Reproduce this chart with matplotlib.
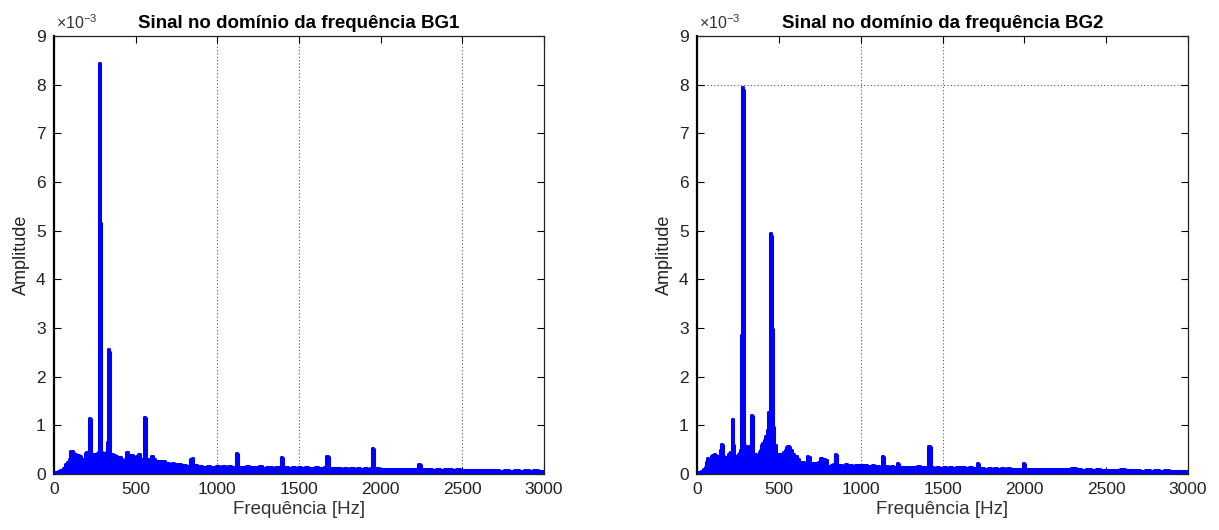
import matplotlib
matplotlib.use("Agg")
import matplotlib.pyplot as plt

plt.rcParams["font.family"] = ["Liberation Sans", "DejaVu Sans"]
plt.rcParams["mathtext.fontset"] = "custom"
plt.rcParams["mathtext.rm"] = "Liberation Sans"

# amplitude spectra, amplitudes in units of 1e-3
freq_bg1 = [0, 15, 30, 45, 60, 72, 85, 95, 102, 110,
            118, 128, 138, 148, 158, 168, 178, 186, 193, 203,
            211, 217, 221, 226, 234, 244, 256, 266, 273, 279,
            283, 287, 295, 304, 312, 320, 326, 330, 334, 338,
            342, 346, 355, 365, 378, 390, 402, 414, 424, 432,
            440, 447, 455, 462, 470, 478, 488, 498, 510, 522,
            532, 542, 550, 555, 559, 563, 568, 580, 592, 600,
            612, 624, 638, 650, 662, 675, 688, 700, 714, 728,
            742, 756, 770, 785, 800, 815, 830, 840, 846, 852,
            866, 880, 896, 912, 930, 948, 966, 984, 1002, 1020,
            1040, 1058, 1076, 1094, 1108, 1117, 1123, 1129, 1145, 1165,
            1185, 1205, 1225, 1245, 1265, 1285, 1305, 1325, 1345, 1365,
            1385, 1395, 1401, 1407, 1425, 1445, 1465, 1485, 1505, 1525,
            1545, 1565, 1585, 1605, 1625, 1645, 1660, 1673, 1681, 1688,
            1705, 1725, 1745, 1765, 1785, 1805, 1825, 1845, 1865, 1885,
            1905, 1925, 1940, 1950, 1956, 1962, 1980, 2000, 2020, 2040,
            2060, 2080, 2100, 2120, 2140, 2160, 2180, 2200, 2220, 2235,
            2243, 2250, 2270, 2300, 2325, 2350, 2375, 2400, 2425, 2450,
            2475, 2500, 2530, 2560, 2590, 2620, 2650, 2680, 2710, 2740,
            2770, 2800, 2830, 2860, 2890, 2920, 2950, 2980, 3000]
amp_bg1 = [0.02, 0.04, 0.06, 0.09, 0.12, 0.20, 0.25, 0.30, 0.47, 0.48,
           0.44, 0.42, 0.36, 0.38, 0.37, 0.30, 0.28, 0.30, 0.44, 0.46,
           0.45, 1.15, 1.13, 0.35, 0.38, 0.42, 0.40, 0.44, 0.45, 8.45,
           5.15, 0.45, 0.42, 0.44, 0.42, 0.46, 0.66, 0.50, 2.57, 2.50,
           1.62, 0.40, 0.42, 0.38, 0.36, 0.33, 0.35, 0.30, 0.28, 0.25,
           0.30, 0.46, 0.40, 0.30, 0.32, 0.39, 0.35, 0.30, 0.36, 0.41,
           0.30, 0.28, 0.30, 1.17, 1.16, 0.55, 0.30, 0.22, 0.30, 0.36,
           0.30, 0.27, 0.24, 0.27, 0.22, 0.26, 0.20, 0.22, 0.21, 0.23,
           0.18, 0.21, 0.20, 0.17, 0.19, 0.17, 0.16, 0.30, 0.32, 0.15,
           0.19, 0.16, 0.17, 0.15, 0.14, 0.16, 0.14, 0.15, 0.16, 0.15,
           0.17, 0.14, 0.16, 0.15, 0.14, 0.43, 0.42, 0.13, 0.15, 0.14,
           0.16, 0.14, 0.15, 0.14, 0.16, 0.13, 0.15, 0.14, 0.13, 0.15,
           0.14, 0.34, 0.33, 0.13, 0.14, 0.12, 0.14, 0.12, 0.14, 0.13,
           0.14, 0.12, 0.13, 0.14, 0.12, 0.13, 0.14, 0.37, 0.35, 0.12,
           0.13, 0.12, 0.13, 0.11, 0.12, 0.11, 0.13, 0.11, 0.12, 0.11,
           0.12, 0.11, 0.12, 0.54, 0.52, 0.10, 0.12, 0.10, 0.11, 0.10,
           0.11, 0.10, 0.11, 0.10, 0.11, 0.10, 0.11, 0.10, 0.11, 0.20,
           0.19, 0.10, 0.11, 0.10, 0.09, 0.10, 0.09, 0.10, 0.11, 0.09,
           0.10, 0.09, 0.08, 0.09, 0.08, 0.09, 0.08, 0.09, 0.08, 0.07,
           0.08, 0.07, 0.08, 0.07, 0.08, 0.07, 0.08, 0.07, 0.07]

freq_bg2 = [0, 15, 30, 42, 50, 58, 66, 74, 82, 90,
            98, 106, 114, 122, 130, 138, 145, 150, 155, 160,
            168, 176, 184, 192, 200, 208, 214, 218, 223, 228,
            236, 244, 252, 260, 268, 273, 279, 283, 287, 292,
            298, 306, 314, 322, 328, 334, 338, 342, 348, 356,
            364, 372, 380, 388, 396, 404, 412, 420, 430, 440,
            452, 458, 464, 470, 476, 486, 494, 502, 510, 520,
            530, 540, 548, 556, 566, 576, 586, 596, 606, 616,
            626, 636, 646, 656, 666, 676, 684, 692, 706, 720,
            734, 746, 756, 766, 776, 788, 798, 810, 822, 834,
            843, 849, 855, 861, 880, 895, 910, 925, 940, 955,
            970, 985, 1000, 1015, 1030, 1045, 1060, 1075, 1090, 1105,
            1118, 1128, 1133, 1139, 1145, 1160, 1175, 1190, 1205, 1215,
            1225, 1231, 1237, 1255, 1275, 1295, 1315, 1335, 1355, 1370,
            1390, 1405, 1417, 1425, 1432, 1450, 1470, 1490, 1510, 1530,
            1550, 1570, 1590, 1610, 1630, 1650, 1670, 1690, 1705, 1714,
            1720, 1726, 1745, 1765, 1785, 1805, 1825, 1845, 1865, 1885,
            1905, 1925, 1945, 1965, 1985, 1996, 2002, 2008, 2030, 2060,
            2090, 2120, 2150, 2180, 2210, 2240, 2270, 2300, 2330, 2360,
            2390, 2420, 2450, 2480, 2510, 2540, 2570, 2600, 2630, 2660,
            2690, 2720, 2750, 2780, 2810, 2840, 2870, 2900, 2930, 2960,
            3000]
amp_bg2 = [0.03, 0.04, 0.06, 0.10, 0.15, 0.25, 0.32, 0.30, 0.28, 0.36,
           0.38, 0.41, 0.38, 0.35, 0.37, 0.33, 0.50, 0.62, 0.60, 0.36,
           0.32, 0.34, 0.30, 0.42, 0.43, 0.45, 1.14, 1.12, 0.60, 0.36,
           0.30, 0.36, 0.41, 0.44, 0.50, 2.86, 7.95, 7.90, 0.73, 0.60,
           0.56, 0.55, 0.58, 0.58, 0.50, 1.21, 1.20, 0.50, 0.42, 0.42,
           0.36, 0.38, 0.45, 0.50, 0.60, 0.63, 0.70, 0.78, 0.90, 1.28,
           4.95, 4.90, 2.98, 0.97, 0.60, 0.41, 0.39, 0.42, 0.38, 0.42,
           0.45, 0.50, 0.55, 0.58, 0.55, 0.49, 0.42, 0.32, 0.36, 0.30,
           0.22, 0.24, 0.25, 0.20, 0.22, 0.36, 0.35, 0.20, 0.22, 0.20,
           0.22, 0.25, 0.32, 0.30, 0.31, 0.28, 0.15, 0.17, 0.18, 0.20,
           0.18, 0.41, 0.40, 0.18, 0.19, 0.17, 0.20, 0.18, 0.19, 0.17,
           0.18, 0.16, 0.18, 0.17, 0.18, 0.16, 0.17, 0.18, 0.16, 0.17,
           0.15, 0.14, 0.36, 0.34, 0.14, 0.16, 0.15, 0.16, 0.14, 0.15,
           0.22, 0.21, 0.15, 0.14, 0.15, 0.14, 0.15, 0.14, 0.17, 0.14,
           0.15, 0.14, 0.58, 0.56, 0.14, 0.13, 0.14, 0.13, 0.14, 0.13,
           0.14, 0.13, 0.15, 0.14, 0.15, 0.13, 0.14, 0.12, 0.13, 0.22,
           0.20, 0.11, 0.12, 0.11, 0.12, 0.11, 0.12, 0.11, 0.12, 0.11,
           0.12, 0.11, 0.10, 0.11, 0.10, 0.22, 0.20, 0.10, 0.11, 0.10,
           0.11, 0.10, 0.11, 0.10, 0.11, 0.10, 0.11, 0.12, 0.10, 0.09,
           0.10, 0.09, 0.10, 0.09, 0.08, 0.09, 0.08, 0.10, 0.08, 0.09,
           0.08, 0.07, 0.08, 0.07, 0.08, 0.07, 0.08, 0.07, 0.06, 0.07,
           0.06]

titles = ["Sinal no domínio da frequência BG1", "Sinal no domínio da frequência BG2"]
xticks = [0, 500, 1000, 1500, 2000, 2500, 3000]
yticks = list(range(10))
# only these grid lines survive in the original rendering
vgrid = [[1000, 1500, 2500], [1000, 1500, 3000]]
hgrid = [[], [8]]

fig = plt.figure(figsize=(12.19, 5.30), dpi=100)
axes = [fig.add_axes([0.0443, 0.1057, 0.4020, 0.8264]),
        fig.add_axes([0.5718, 0.1057, 0.4028, 0.8264])]
series = [(freq_bg1, amp_bg1), (freq_bg2, amp_bg2)]

for i, ax in enumerate(axes):
    f, a = series[i]
    for xv in vgrid[i]:
        ax.axvline(xv, color="#555555", lw=0.8, ls=(0, (1, 2)), zorder=0)
    for yv in hgrid[i]:
        ax.axhline(yv, color="#555555", lw=0.8, ls=(0, (1, 2)), zorder=0)
    ax.fill_between(f, 0, a, step="mid", color="#0000ff", lw=0, zorder=2)
    ax.plot(f, a, color="#0000ff", lw=2.2, drawstyle="steps-mid", zorder=3)
    ax.set_xlim(0, 3000)
    ax.set_ylim(0, 9)
    ax.set_xticks(xticks)
    ax.set_yticks(yticks)
    ax.tick_params(direction="in", top=True, right=True, length=5, width=0.8,
                   labelsize=12.5, labelcolor="#222222", pad=6)
    for s in ax.spines.values():
        s.set_linewidth(0.9)
        s.set_color("#222222")
    ax.spines["left"].set_linewidth(1.6)
    ax.spines["left"].set_color("black")
    ax.set_xlabel("Frequência [Hz]", fontsize=13.5, color="#333333", labelpad=3)
    ax.set_ylabel("Amplitude", fontsize=13, color="#222222", labelpad=4)
    ax.set_title(titles[i], fontsize=13.5, fontweight="bold", pad=6)
    ax.text(0.005, 1.008, r"$\times10^{-3}$", transform=ax.transAxes, fontsize=11.5,
            color="#333333", ha="left", va="bottom")

fig.savefig("out.png", dpi=100)
print("saved")
